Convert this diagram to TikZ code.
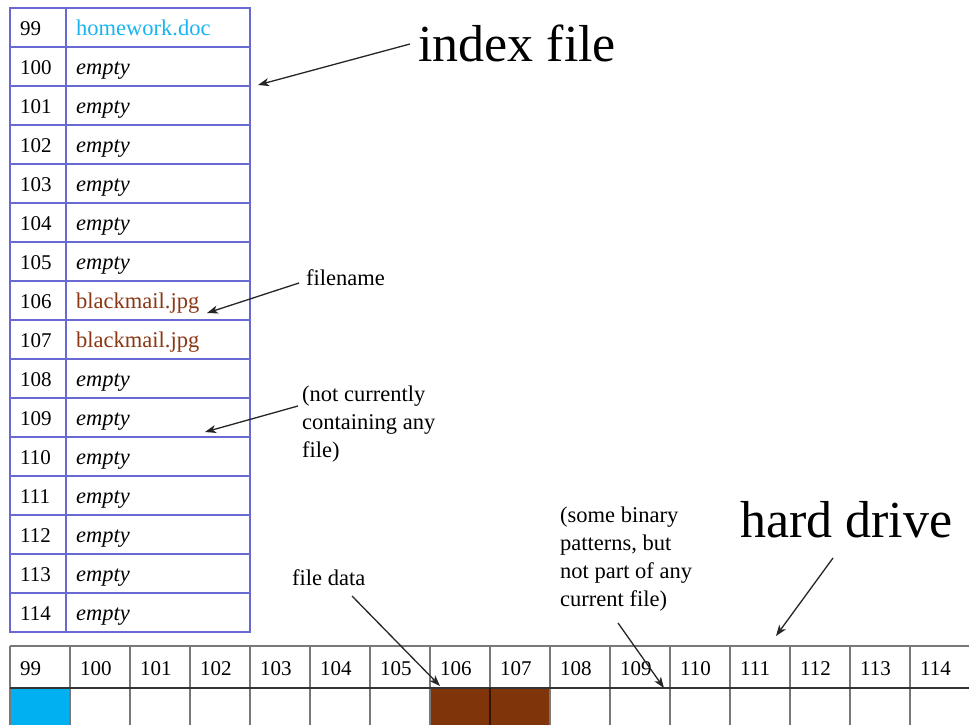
\documentclass[tikz,border=0pt]{standalone}
\usepackage{fontspec}
\setmainfont{Liberation Serif}
\usetikzlibrary{arrows.meta}
\definecolor{tblue}{RGB}{105,105,212}
\definecolor{hdgray}{RGB}{120,120,120}
\definecolor{cyanfile}{RGB}{0,176,240}
\definecolor{brownfile}{RGB}{127,52,10}
\definecolor{cyantext}{RGB}{25,180,240}
\definecolor{browntext}{RGB}{140,55,20}
\begin{document}
\begin{tikzpicture}[x=1pt,y=-1pt,
  small/.style={font=\fontsize{22.5}{28}\selectfont, inner sep=0pt},
  num/.style={font=\fontsize{21}{28}\selectfont, inner sep=0pt},
  big/.style={font=\fontsize{52}{60}\selectfont, inner sep=0pt},
  ptr/.style={-{Stealth[length=11pt,width=8pt,inset=3pt]}, line width=1.3pt, black!85}]
\useasboundingbox[fill=white] (0,0) rectangle (969,725);
\clip (0,0) rectangle (969,725);

% ---------- index table ----------
\foreach \k in {1,...,15} \draw[tblue, line width=2pt] (10,8+39*\k) -- (250,8+39*\k);
\draw[tblue, line width=2pt] (66,8) -- (66,632);
\draw[tblue, line width=2.4pt] (10,8) rectangle (250,632);

\foreach \n [count=\k from 0] in {99,...,114}
  \node[num, anchor=base west] (num\n) at (20, 35.5+39*\k) {\n};

\foreach \n/\t [count=\k from 0] in {
  99/{\color{cyantext}homework.doc},
  100/{\itshape empty}, 101/{\itshape empty}, 102/{\itshape empty},
  103/{\itshape empty}, 104/{\itshape empty}, 105/{\itshape empty},
  106/{\color{browntext}blackmail.jpg}, 107/{\color{browntext}blackmail.jpg},
  108/{\itshape empty}, 109/{\itshape empty}, 110/{\itshape empty},
  111/{\itshape empty}, 112/{\itshape empty}, 113/{\itshape empty},
  114/{\itshape empty}}
  \node[small, anchor=base west] (name\n) at (76, 35.5+39*\k) {\t};

% ---------- hard drive ----------
\fill[cyanfile] (10,688) rectangle (70,730);
\fill[brownfile] (430,688) rectangle (550,730);
\draw[hdgray, line width=2.8pt] (10,646) -- (975,646);
\foreach \k in {0,...,16} \draw[hdgray, line width=2.8pt] (10+60*\k,646) -- (10+60*\k,730);
\draw[black!80, line width=1.6pt] (10,688) -- (975,688);
\draw[black!60!brownfile, line width=2.8pt] (490,688) -- (490,730);

\foreach \n [count=\k from 0] in {99,...,114}
  \node[num, anchor=base west] (hd\n) at (20+60*\k, 675) {\n};

% ---------- labels ----------
\node[big, anchor=base west] (lidx) at (418,62) {index file};
\node[big, anchor=base west] (lhd) at (740,537) {hard drive};
\node[small, anchor=base west] (lfn) at (306,285) {filename};
\node[small, anchor=north west, align=left] (lnc) at (302,386) {(not currently\\containing any\\file)};
\node[small, anchor=base west] (lfd) at (292,585) {file data};
\node[small, anchor=north west, align=left] (lsb) at (560,507) {(some binary\\patterns, but\\not part of any\\current file)};

% ---------- arrows ----------
\coordinate (sidx) at (410,44);   \coordinate (eidx) at (258,85);
\coordinate (sfn) at (299,283);   \coordinate (efn) at (207,313);
\coordinate (snc) at (298,406);   \coordinate (enc) at (205,432);
\coordinate (sfd) at (352,596);   \coordinate (efd) at (440,686);
\coordinate (ssb) at (618,623);   \coordinate (esb) at (664,688);
\coordinate (shd) at (833,558);   \coordinate (ehd) at (776,636);
\draw[ptr] (sidx) -- (eidx);
\draw[ptr] (sfn) -- (efn);
\draw[ptr] (snc) -- (enc);
\draw[ptr] (sfd) -- (efd);
\draw[ptr] (ssb) -- (esb);
\draw[ptr] (shd) -- (ehd);
\end{tikzpicture}
\end{document}
